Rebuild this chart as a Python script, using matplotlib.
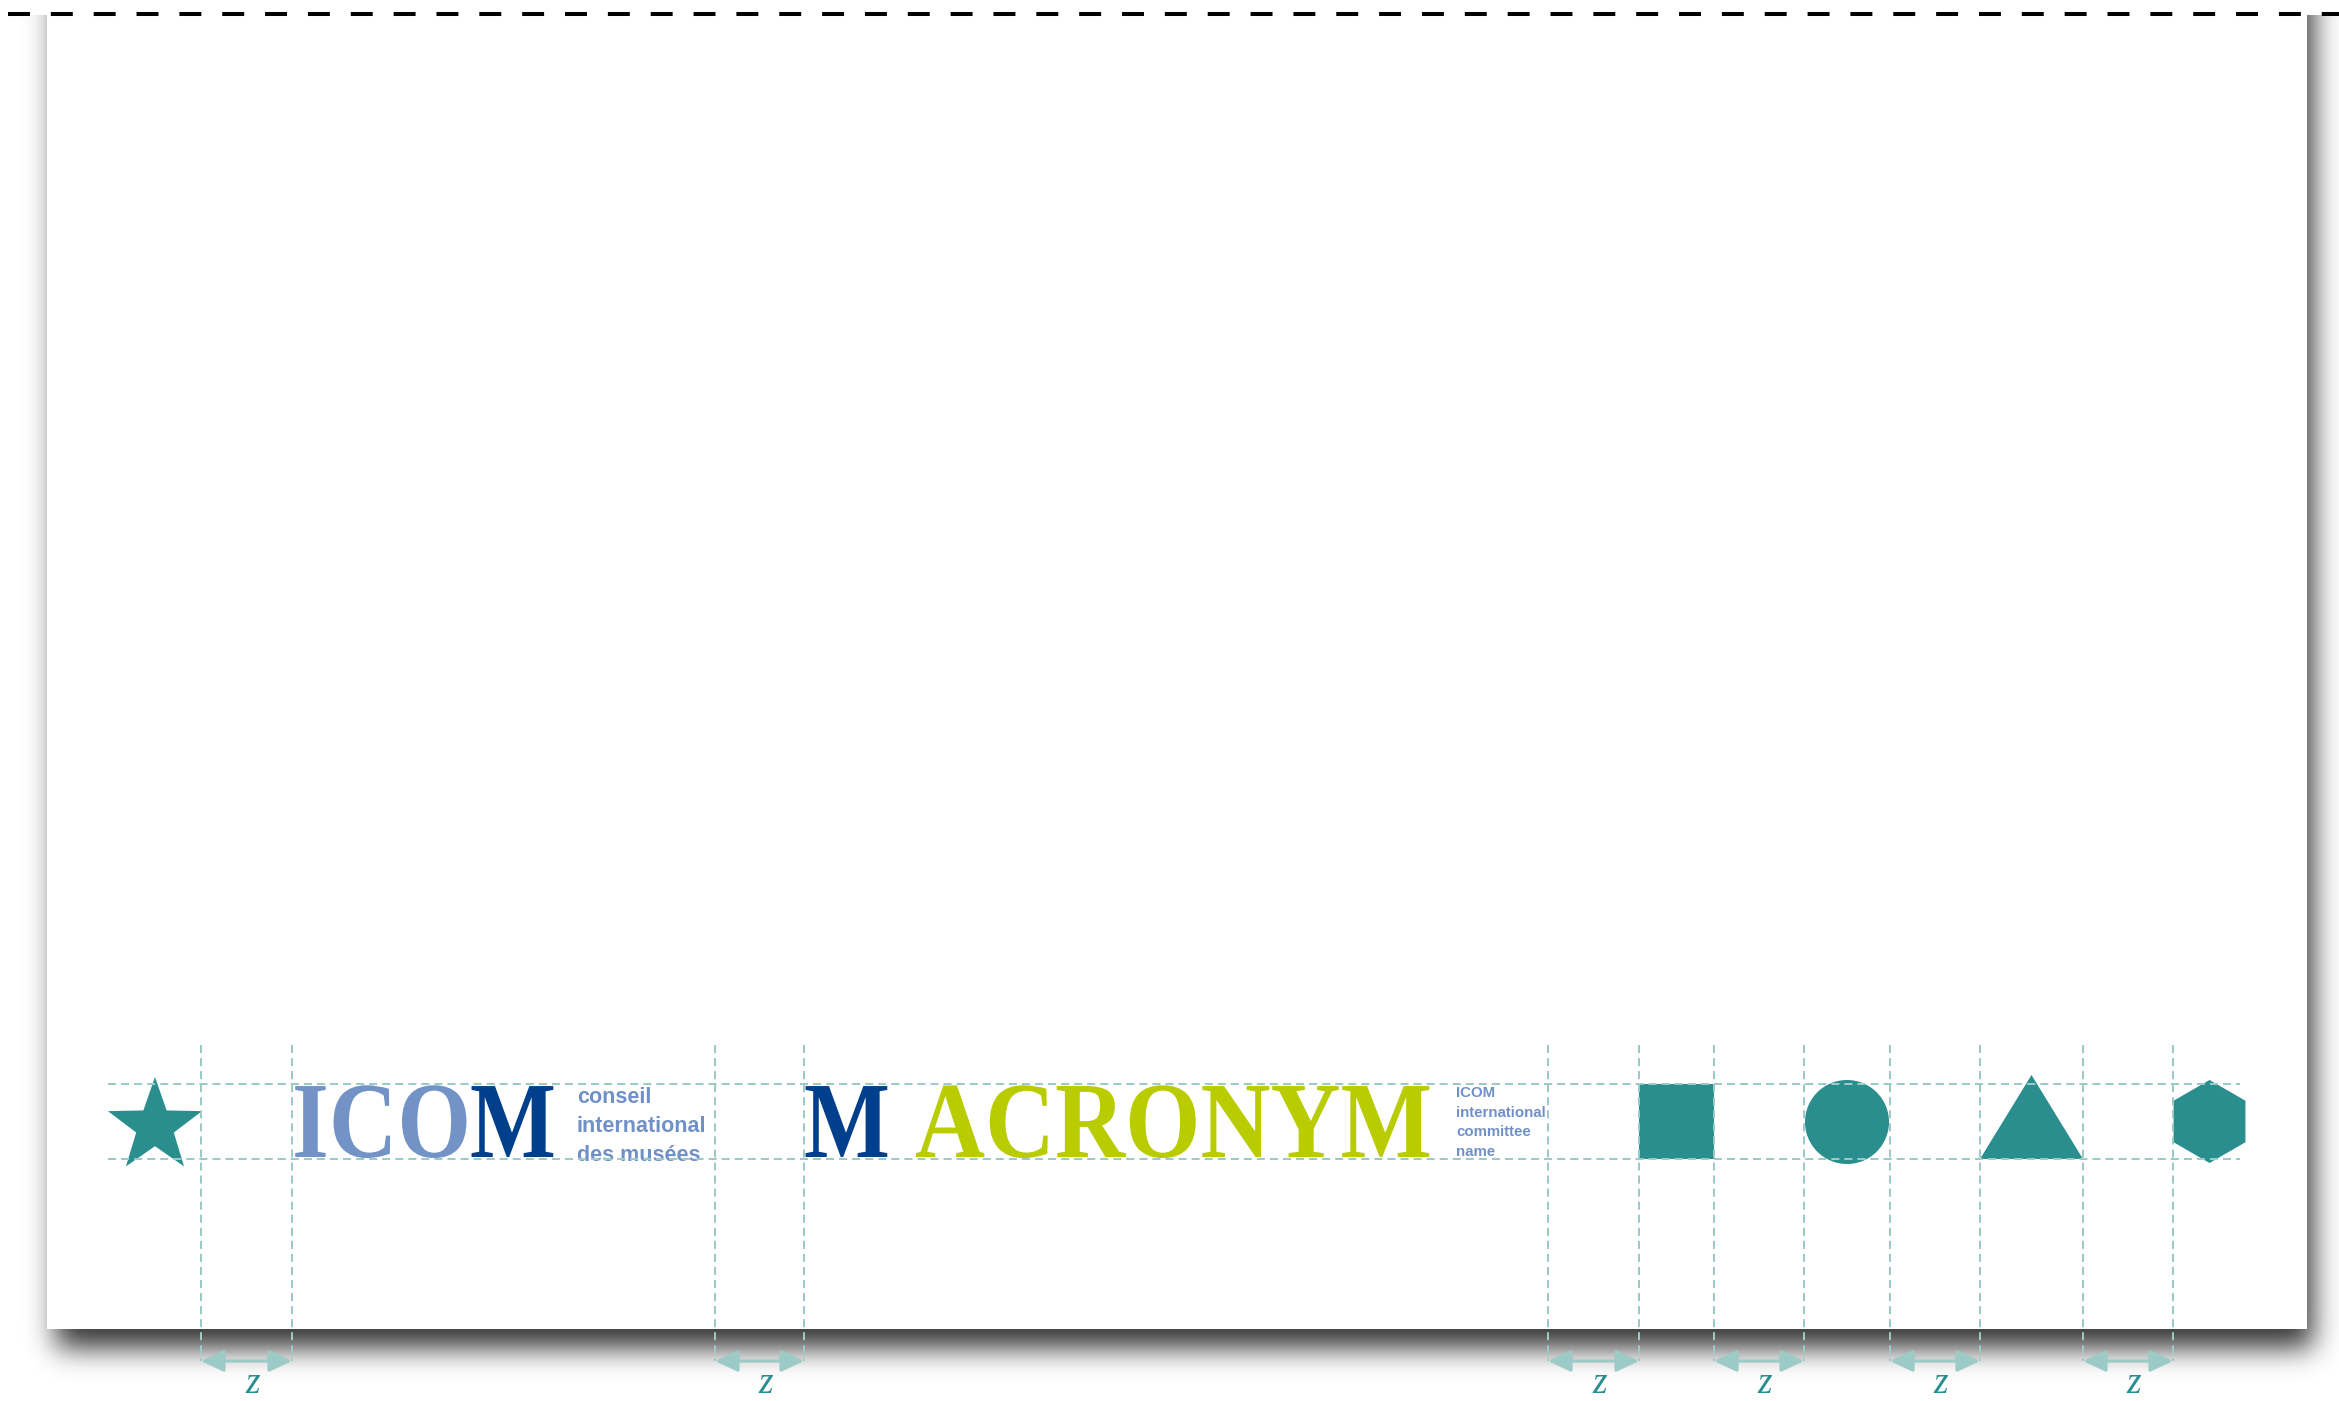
import math
import numpy as np
import matplotlib
matplotlib.use("Agg")
import matplotlib.pyplot as plt
from matplotlib.patches import Rectangle, Circle, Polygon, RegularPolygon, FancyArrowPatch
from matplotlib.patheffects import AbstractPathEffect
from matplotlib.transforms import Affine2D

plt.rcParams['lines.scale_dashes'] = False

# ---------------- data ----------------
W, H = 2339, 1401
page_box = [47, 15, 2307, 1329]            # x0, y0, x1, y1 (pixels)
band_y = [1084, 1159]                      # guide band (top, baseline)
band_x = [108, 2240]
guide_top = 1045
arrow_y = 1361
zone_left = [201, 715, 1548, 1714, 1890, 2083]
zone_right = [292, 804, 1639, 1804, 1980, 2173]
z_label = "z"

icom_word = ["ICO", "M"]
icom_x = [292, 470]
acronym_mark = "M"
acronym_word = "ACRONYM"
mark_x = 804
acronym_x = 915
small1_lines = ["conseil", "international", "des musées"]
small1_x = 577
small1_top = 1087
small2_lines = ["ICOM", "international", "committee", "name"]
small2_x = 1456
small2_top = 1086

shape_kinds = ["star", "square", "circle", "triangle", "hexagon"]
shape_x0 = [108, 1639, 1805, 1980, 2173]
shape_x1 = [202, 1714, 1889, 2083, 2246]
shape_y0 = [1077, 1084, 1080, 1075, 1080]
shape_y1 = [1166, 1159, 1164, 1159, 1163]

# ---------------- colours ----------------
TEAL = "#2a8e8e"
GUIDE = "#9ccac6"
LIGHT_BLUE = "#7393c6"
DARK_BLUE = "#003f8c"
LIME = "#b8cc00"
SMALL_BLUE = "#7090c8"


class Stretch(AbstractPathEffect):
    """Scale the glyph outlines about the text baseline origin."""
    def __init__(self, sx=1.0, sy=1.0):
        super().__init__()
        self.sx = sx
        self.sy = sy

    def draw_path(self, renderer, gc, tpath, affine, rgbFace=None):
        m = affine.get_matrix()
        tx, ty = m[0, 2], m[1, 2]
        aff = affine + Affine2D().translate(-tx, -ty).scale(self.sx, self.sy).translate(tx, ty)
        renderer.draw_path(gc, tpath, aff, rgbFace)


fig = plt.figure(figsize=(W / 100, H / 100), dpi=100)
ax = fig.add_axes([0, 0, 1, 1])
ax.set_xlim(0, W)
ax.set_ylim(H, 0)
ax.axis("off")

# ---------------- page shadow ----------------
erf = np.vectorize(math.erf)
xs = np.arange(W) + 0.5
ys = np.arange(H) + 0.5
sig = 14 * math.sqrt(2)
sx0, sx1, sy0, sy1 = 56, 2313, page_box[1], 1348
fx = 0.5 * (erf((xs - sx0) / sig) - erf((xs - sx1) / sig))
fy = 0.5 * (1 - erf((ys - sy1) / sig))
fy[ys < sy0] = 0
alpha = 0.8 * np.outer(fy, fx)
img = np.zeros((H, W, 4))
img[..., 3] = alpha
ax.imshow(img, extent=(0, W, H, 0), zorder=0, interpolation="nearest", aspect="auto")

ax.add_patch(Rectangle((page_box[0], page_box[1]), page_box[2] - page_box[0],
                       page_box[3] - page_box[1], facecolor="white", edgecolor="none", zorder=1))

# top dashed cut line
ax.plot([8, W], [14, 14], color="black", lw=2.9, solid_capstyle="butt",
        dash_capstyle="butt", linestyle=(0, (15.8, 15.05)), zorder=5)

# ---------------- guides ----------------
gdash = (0, (5.8, 3.6))
for yb in band_y:
    ax.plot(band_x, [yb, yb], color=GUIDE, lw=1.45, linestyle=gdash, zorder=3)
for xl, xr in zip(zone_left, zone_right):
    for xv in (xl, xr):
        ax.plot([xv, xv], [guide_top, arrow_y], color=GUIDE, lw=1.45, linestyle=gdash, zorder=3)
    arr = FancyArrowPatch((xl, arrow_y), (xr, arrow_y), arrowstyle="<|-|>,head_length=0.7,head_width=0.33",
                          mutation_scale=20, color=GUIDE, lw=2.2, shrinkA=0, shrinkB=0, zorder=4)
    ax.add_patch(arr)
    ax.text((xl + xr) / 2 + 6, 1393, z_label, color=TEAL, fontsize=27,
            family="Liberation Serif", style="italic", ha="center", va="baseline", zorder=5)

# ---------------- shapes ----------------
for kind, x0, x1, y0, y1 in zip(shape_kinds, shape_x0, shape_x1, shape_y0, shape_y1):
    cx, cy = (x0 + x1) / 2, (y0 + y1) / 2
    w, h = x1 - x0, y1 - y0
    if kind == "star":
        R = w / (2 * math.sin(math.radians(72)))
        r = R * 0.40
        ccy = y0 + R
        ang = np.radians(-90 + 36 * np.arange(10))
        rad = np.where(np.arange(10) % 2 == 0, R, r)
        pts = np.column_stack([cx + rad * np.cos(ang), ccy + rad * np.sin(ang)])
        p = Polygon(pts, closed=True)
    elif kind == "square":
        p = Rectangle((x0, y0), w, h)
    elif kind == "circle":
        p = Circle((cx, cy), w / 2)
    elif kind == "triangle":
        p = Polygon([[x0, y1], [x1, y1], [cx, y0]], closed=True)
    else:
        p = RegularPolygon((cx, cy), numVertices=6, radius=h / 2, orientation=0)
    p.set_facecolor(TEAL)
    p.set_edgecolor("none")
    p.set_zorder(2)
    ax.add_patch(p)

# ---------------- logos ----------------
serif = ["Liberation Serif", "DejaVu Serif"]
sans = ["Liberation Sans", "DejaVu Sans"]
big = 78
base = band_y[1] - 2
for txt, x, col, k in [(icom_word[0], icom_x[0], LIGHT_BLUE, 0.875),
                       (icom_word[1], icom_x[1], DARK_BLUE, 0.84),
                       (acronym_mark, mark_x, DARK_BLUE, 0.84),
                       (acronym_word, acronym_x, LIME, 0.895)]:
    ax.text(x, base, txt, color=col, fontsize=big * k, family=serif, weight="bold",
            ha="left", va="baseline", zorder=2, path_effects=[Stretch(1.0, 1.0 / k)])

ax.text(small1_x, small1_top, "\n".join(small1_lines), color=SMALL_BLUE, fontsize=15.5,
        family=sans, weight="bold", ha="left", va="top", linespacing=1.485, zorder=2)
ax.text(small2_x, small2_top, "\n".join(small2_lines), color=SMALL_BLUE, fontsize=10.8,
        family=sans, weight="bold", ha="left", va="top", linespacing=1.52, zorder=2)

fig.savefig("out.png", dpi=100)
